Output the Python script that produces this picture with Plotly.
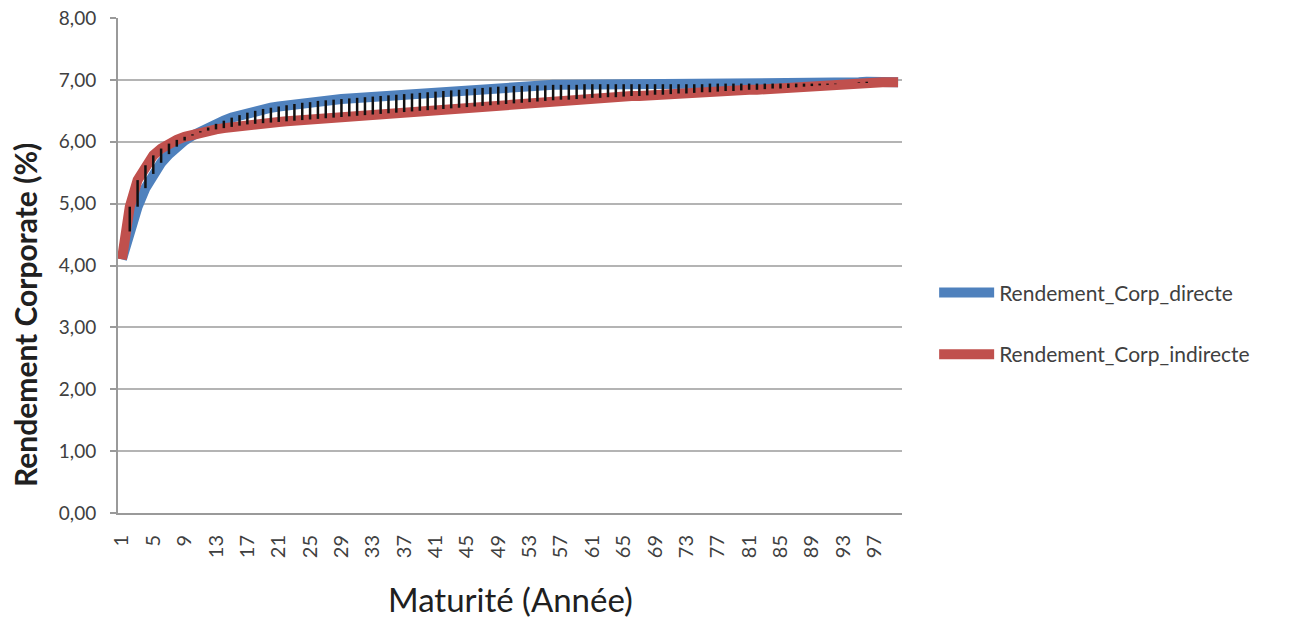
import plotly.graph_objects as go

maturite = list(range(1, 101))

rendement_directe = [
    4.10, 4.55, 4.95, 5.25, 5.48, 5.66, 5.80, 5.92, 6.02, 6.10,
    6.17, 6.23, 6.29, 6.34, 6.39, 6.43, 6.47, 6.50, 6.53, 6.55,
    6.57, 6.59, 6.61, 6.63, 6.64, 6.66, 6.67, 6.68, 6.69, 6.70,
    6.71, 6.72, 6.73, 6.74, 6.75, 6.76, 6.77, 6.78, 6.79, 6.80,
    6.81, 6.82, 6.83, 6.84, 6.85, 6.86, 6.87, 6.88, 6.89, 6.89,
    6.90, 6.90, 6.91, 6.91, 6.91, 6.92, 6.92, 6.92, 6.92, 6.93,
    6.93, 6.93, 6.93, 6.93, 6.93, 6.93, 6.93, 6.93, 6.93, 6.93,
    6.93, 6.93, 6.93, 6.93, 6.93, 6.94, 6.94, 6.94, 6.94, 6.94,
    6.94, 6.94, 6.94, 6.94, 6.94, 6.94, 6.94, 6.94, 6.94, 6.94,
    6.94, 6.94, 6.94, 6.94, 6.96, 6.97, 6.96, 6.96, 6.96, 6.96,
]

rendement_indirecte = [
    4.10, 4.95, 5.38, 5.62, 5.78, 5.89, 5.97, 6.03, 6.08, 6.12,
    6.15, 6.18, 6.20, 6.22, 6.24, 6.26, 6.28, 6.29, 6.30, 6.31,
    6.32, 6.33, 6.34, 6.35, 6.36, 6.37, 6.38, 6.39, 6.40, 6.41,
    6.42, 6.43, 6.44, 6.45, 6.46, 6.47, 6.48, 6.49, 6.50, 6.51,
    6.52, 6.53, 6.54, 6.55, 6.56, 6.57, 6.58, 6.59, 6.60, 6.61,
    6.62, 6.63, 6.64, 6.65, 6.66, 6.67, 6.68, 6.68, 6.69, 6.70,
    6.71, 6.71, 6.72, 6.72, 6.73, 6.74, 6.74, 6.75, 6.76, 6.76,
    6.77, 6.78, 6.78, 6.79, 6.80, 6.80, 6.81, 6.82, 6.82, 6.83,
    6.84, 6.84, 6.85, 6.86, 6.86, 6.87, 6.88, 6.89, 6.90, 6.91,
    6.92, 6.93, 6.94, 6.94, 6.95, 6.95, 6.96, 6.96, 6.96, 6.96,
]

x_tick_vals = list(range(1, 101, 4))
y_tick_vals = [0, 1, 2, 3, 4, 5, 6, 7, 8]

BLUE = "#4F81BD"
RED = "#C0504D"
FONT = "Lato, 'Open Sans', sans-serif"

# high-low connector segments between the two series
hl_x, hl_y = [], []
for m, d, i in zip(maturite, rendement_directe, rendement_indirecte):
    hl_x += [m, m, None]
    hl_y += [d, i, None]

fig = go.Figure()
fig.add_trace(go.Scatter(
    x=maturite, y=rendement_directe, mode="lines", name="Rendement_Corp_directe",
    line=dict(color=BLUE, width=10), legend="legend",
))
fig.add_trace(go.Scatter(
    x=maturite, y=rendement_indirecte, mode="lines", name="Rendement_Corp_indirecte",
    line=dict(color=RED, width=10), legend="legend2",
))
fig.add_trace(go.Scatter(
    x=hl_x, y=hl_y, mode="lines", showlegend=False, hoverinfo="skip",
    line=dict(color="#111111", width=2.5),
))

legend_common = dict(
    xanchor="left", yanchor="middle", bgcolor="rgba(0,0,0,0)",
    font=dict(family=FONT, size=21, color="#404040"),
    itemwidth=55,
)

fig.update_layout(
    width=1293, height=622,
    margin=dict(l=118, r=391, t=18, b=109),
    paper_bgcolor="white", plot_bgcolor="white",
    separators=",.",
    font=dict(family=FONT, color="#404040"),
    legend=dict(x=1.041, y=0.445, **legend_common),
    legend2=dict(x=1.041, y=0.32, **legend_common),
    xaxis=dict(
        range=[0.5, 100.5], automargin=False,
        tickmode="array", tickvals=x_tick_vals, ticktext=[str(v) for v in x_tick_vals],
        tickangle=-90, tickfont=dict(family=FONT, size=20, color="#404040"),
        ticklabelstandoff=12,
        showgrid=False, showline=True, linecolor="#9a9a9a", linewidth=2,
        ticks="", zeroline=False,
    ),
    yaxis=dict(
        range=[0, 8], automargin=False,
        tickmode="array", tickvals=y_tick_vals, tickformat=".2f",
        tickfont=dict(family=FONT, size=19, color="#404040"),
        ticklabelstandoff=10,
        showgrid=True, gridcolor="#b4b4b4", gridwidth=2,
        showline=True, linecolor="#9a9a9a", linewidth=2,
        ticks="outside", ticklen=6, tickcolor="#9a9a9a", tickwidth=2,
        zeroline=False,
    ),
    annotations=[
        dict(text="<b>Rendement Corporate (%)</b>", textangle=-90,
             xref="paper", yref="paper", x=-0.1186, y=0.40,
             xanchor="center", yanchor="middle", showarrow=False,
             font=dict(family=FONT, size=30, color="#202020")),
        dict(text="Maturité (Année)",
             xref="paper", yref="paper", x=0.5, y=-0.174,
             xanchor="center", yanchor="middle", showarrow=False,
             font=dict(family=FONT, size=33, color="#202020")),
    ],
)

fig.write_html("out.html", config={"displayModeBar": False},
               post_script="document.body.style.margin='0';")
